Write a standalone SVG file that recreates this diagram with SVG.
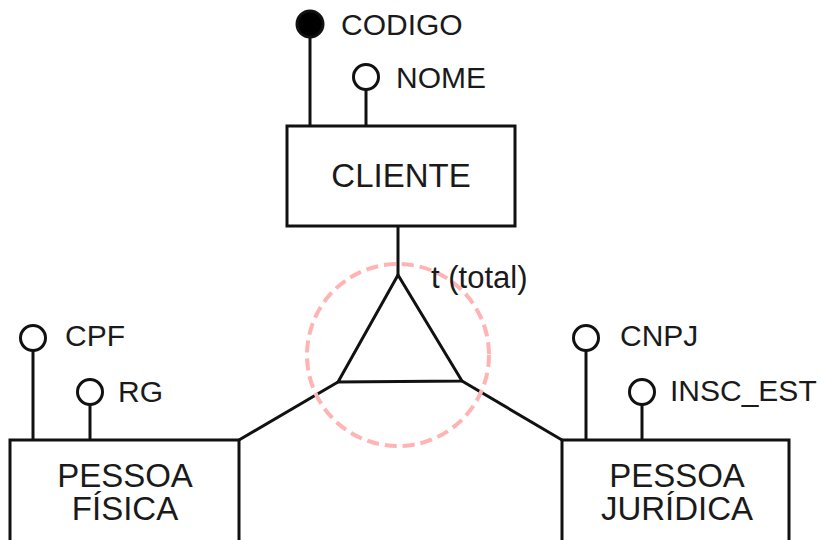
<svg xmlns="http://www.w3.org/2000/svg" width="821" height="540" viewBox="0 0 821 540">
<style>
.box{fill:#fff;stroke:#111;stroke-width:3}
.ln{stroke:#111;stroke-width:3;fill:none}
.att{fill:#fff;stroke:#111;stroke-width:3}
.key{fill:#000;stroke:#111;stroke-width:3}
.lbl{font-family:"Liberation Sans",Arial,sans-serif;font-size:30px;fill:#1a1a1a}
.ent{font-family:"Liberation Sans",Arial,sans-serif;font-size:33px;fill:#1a1a1a;text-anchor:middle}
</style>
<rect width="821" height="540" fill="#fff"/>
<g id="connectors">
<line class="ln" x1="310" y1="30" x2="310" y2="126"/>
<line class="ln" x1="366" y1="90" x2="366" y2="126"/>
<line class="ln" x1="398" y1="226" x2="398" y2="275"/>
<polygon class="ln" points="398,275 338,382 462,381" stroke-linejoin="miter"/>
<line class="ln" x1="338" y1="382" x2="239" y2="440"/>
<line class="ln" x1="462" y1="381" x2="562" y2="440"/>
<line class="ln" x1="33" y1="351" x2="33" y2="440"/>
<line class="ln" x1="90" y1="405" x2="90" y2="440"/>
<line class="ln" x1="586" y1="351" x2="586" y2="440"/>
<line class="ln" x1="642" y1="405" x2="642" y2="440"/>
</g>
<g id="cliente">
<rect class="box" x="287" y="126" width="228" height="100"/>
<text class="ent" x="401" y="187">CLIENTE</text>
</g>
<g id="codigo">
<circle class="key" cx="310" cy="24" r="13"/>
<text class="lbl" x="341" y="35">CODIGO</text>
</g>
<g id="nome">
<circle class="att" cx="366" cy="77" r="12.5"/>
<text class="lbl" x="396" y="88">NOME</text>
</g>
<g id="especializacao">
<circle cx="398" cy="355" r="91" fill="none" stroke="#ffb3b3" stroke-width="4" stroke-dasharray="12 6"/>
<text class="lbl" x="431" y="288" style="font-size:31px">t (total)</text>
</g>
<g id="pessoa_fisica">
<rect class="box" x="10" y="440" width="229" height="110"/>
<text class="ent" x="125" y="487">PESSOA</text>
<text class="ent" x="125" y="520">FÍSICA</text>
</g>
<g id="cpf">
<circle class="att" cx="33" cy="338" r="12.5"/>
<text class="lbl" x="65" y="346">CPF</text>
</g>
<g id="rg">
<circle class="att" cx="90" cy="392" r="12.5"/>
<text class="lbl" x="118" y="402">RG</text>
</g>
<g id="pessoa_juridica">
<rect class="box" x="562" y="440" width="227" height="110"/>
<text class="ent" x="677" y="487">PESSOA</text>
<text class="ent" x="677" y="520">JURÍDICA</text>
</g>
<g id="cnpj">
<circle class="att" cx="586" cy="338" r="12.5"/>
<text class="lbl" x="620" y="346">CNPJ</text>
</g>
<g id="insc_est">
<circle class="att" cx="642" cy="392" r="12.5"/>
<text class="lbl" x="670" y="401">INSC_EST</text>
</g>
</svg>
